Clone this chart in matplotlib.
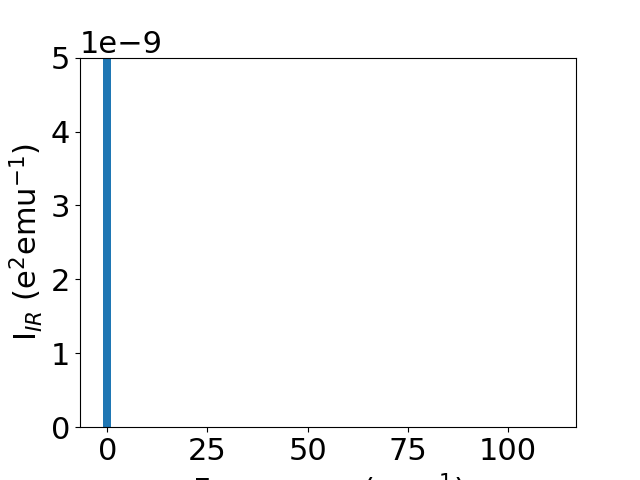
import matplotlib.pyplot as plt
import numpy as np

plt.switch_backend('agg')
plt.rcParams['font.size'] = 22

# IR intensities (only the low-frequency mode rises above the visible range)
freqs = [0.0]
intensity = [2.0e-8]

fig, ax = plt.subplots(figsize=(6.4, 4.8), dpi=100)
ax.bar(freqs, intensity, width=2.1, color='#1f77b4')
ax.set_xlim(-6.8, 117.0)
ax.set_ylim(0, 5e-9)
ax.set_xticks([0, 25, 50, 75, 100])
ax.set_xlabel('Frequency (cm$^{-1}$)')
ax.set_ylabel('I$_{IR}$ (e$^2$emu$^{-1}$)')

plt.savefig('out.png')
